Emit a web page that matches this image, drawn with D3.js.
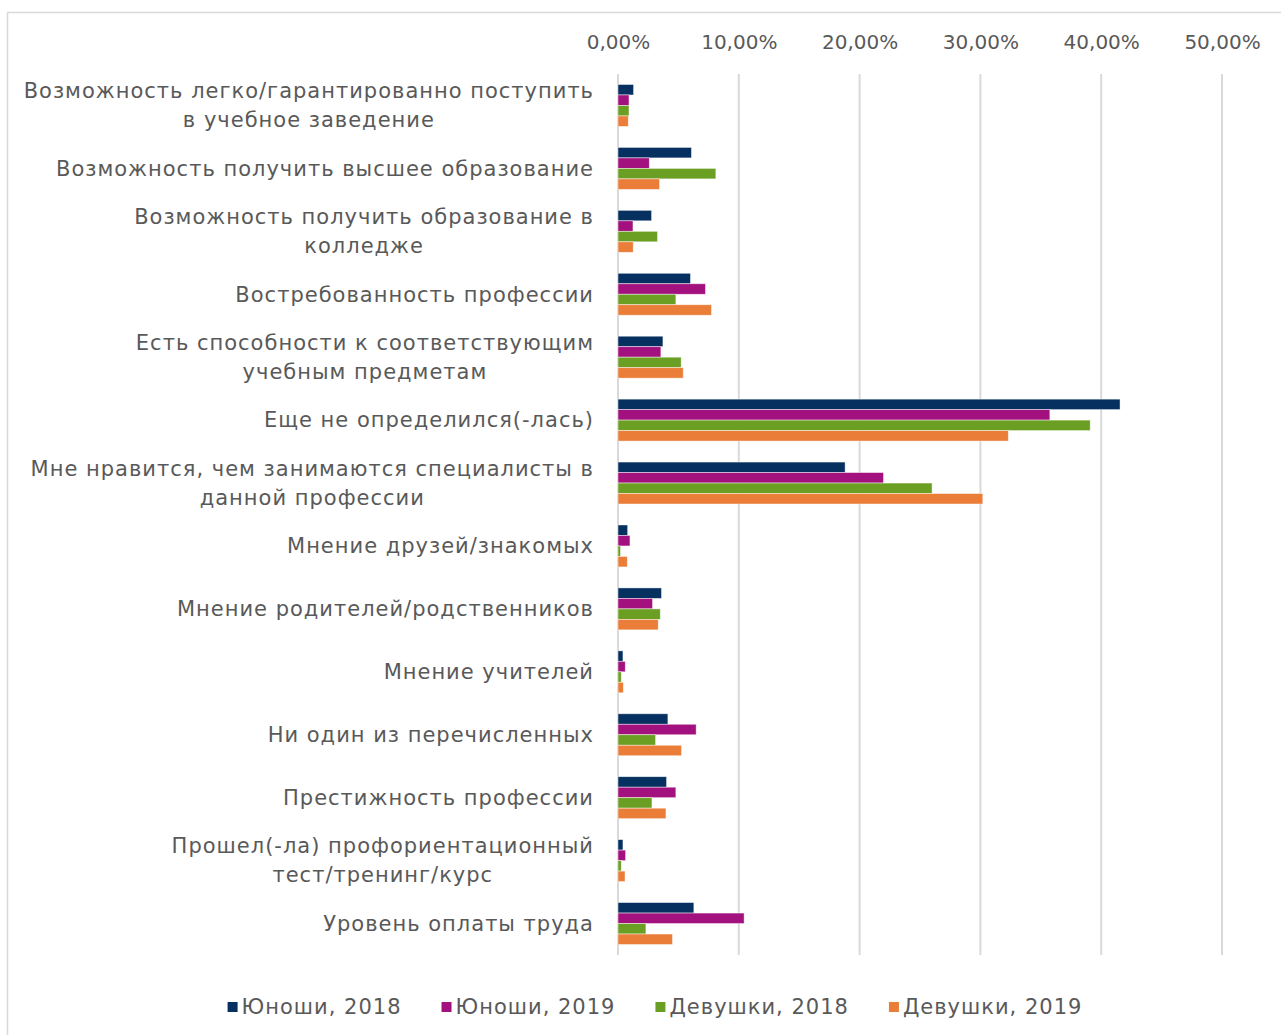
<!DOCTYPE html>
<html>
<head>
<meta charset="utf-8">
<script src="https://cdn.jsdelivr.net/npm/d3@7"></script>
<style>
  body { margin: 0; background: #fff; }
  text { font-family: "DejaVu Sans", sans-serif; fill: #595959; }
</style>
</head>
<body>
<div id="chart"></div>
<script>
const categories = [
  'Возможность легко/гарантированно поступить\nв учебное заведение',
  'Возможность получить высшее образование',
  'Возможность получить образование в\nколледже',
  'Востребованность профессии',
  'Есть способности к соответствующим\nучебным предметам',
  'Еще не определился(-лась)',
  'Мне нравится, чем занимаются специалисты в\nданной профессии',
  'Мнение друзей/знакомых',
  'Мнение родителей/родственников',
  'Мнение учителей',
  'Ни один из перечисленных',
  'Престижность профессии',
  'Прошел(-ла) профориентационный\nтест/тренинг/курс',
  'Уровень оплаты труда'
];
const seriesNames = ['Юноши, 2018', 'Юноши, 2019', 'Девушки, 2018', 'Девушки, 2019'];
const colors = ['#06305f', '#a3117f', '#6b9f23', '#ea7e39'];

// values in %
const boys2018  = [1.29, 6.08, 2.78, 6.00, 3.72, 41.56, 18.80, 0.80, 3.60, 0.41, 4.13, 4.02, 0.41, 6.28];
const boys2019  = [0.91, 2.59, 1.24, 7.24, 3.55, 35.75, 21.98, 0.99, 2.86, 0.60, 6.47, 4.79, 0.63, 10.44];
const girls2018 = [0.91, 8.10, 3.27, 4.79, 5.23, 39.09, 26.00, 0.21, 3.50, 0.27, 3.11, 2.81, 0.27, 2.31];
const girls2019 = [0.85, 3.44, 1.26, 7.74, 5.40, 32.31, 30.20, 0.77, 3.33, 0.44, 5.26, 3.97, 0.58, 4.51];
const xTicks = [0, 10, 20, 30, 40, 50];

const series = [boys2018, boys2019, girls2018, girls2019];

const width = 1281, height = 1035;
const plot = {left: 618, right: 1222, top: 74, bottom: 955};
const labelRight = 594;

const svg = d3.select('#chart')
  .append('svg')
    .attr('width', width)
    .attr('height', height);

svg.append('rect')
  .attr('width', width).attr('height', height).attr('fill', '#fff');

// chart frame
svg.append('rect')
  .attr('x', 7.5).attr('y', 12.5)
  .attr('width', 1290).attr('height', 1040)
  .attr('fill', 'none')
  .attr('stroke', '#d9d9d9')
  .attr('stroke-width', 1.5);

const x = d3.scaleLinear()
  .domain([0, 50])
  .range([plot.left, plot.right]);

const y = d3.scaleBand()
  .domain(categories)
  .range([plot.top, plot.bottom])
  .paddingInner(1 / 3)
  .paddingOuter(1 / 6);

const ySub = d3.scaleBand()
  .domain(d3.range(series.length))
  .range([0, y.bandwidth()]);

// gridlines
svg.append('g')
    .attr('class', 'grid')
  .selectAll('line')
  .data(xTicks)
  .join('line')
    .attr('x1', d => x(d)).attr('x2', d => x(d))
    .attr('y1', plot.top).attr('y2', plot.bottom)
    .attr('stroke', '#d9d9d9')
    .attr('stroke-width', 2);

// top axis labels
const fmt = d => d3.format('.2f')(d).replace('.', ',') + '%';
const xAxis = svg.append('g')
    .attr('transform', `translate(0, ${plot.top - 22})`)
  .call(d3.axisTop(x).tickValues(xTicks).tickFormat(fmt).tickSize(0));
xAxis.select('.domain').remove();
xAxis.selectAll('text')
  .attr('dy', 0)
  .style('font-size', '20px');

// bars
const bars = svg.append('g').attr('class', 'bars');
series.forEach((values, si) => {
  bars.selectAll(`.bar-${si}`)
    .data(values)
    .join('rect')
      .attr('class', `bar-${si}`)
      .attr('x', x(0))
      .attr('y', (d, i) => y(categories[i]) + ySub(si))
      .attr('width', d => x(d) - x(0))
      .attr('height', ySub.bandwidth())
      .attr('fill', colors[si])
      .attr('stroke', 'rgba(255,255,255,0.6)')
      .attr('stroke-width', 0.75);
});

// category labels (wrapped lines centred on each other, block right-aligned)
const lineH = 29;
svg.append('g')
    .attr('class', 'cat-labels')
  .selectAll('text')
  .data(categories)
  .join('text')
    .attr('text-anchor', 'middle')
    .style('font-size', '21px')
    .style('letter-spacing', '1px')
    .each(function(d) {
      const lines = d.split('\n');
      const cy = y(d) + y.bandwidth() / 2;
      const t = d3.select(this);
      const spans = lines.map((ln, k) => t.append('tspan')
        .attr('y', cy + (k - (lines.length - 1) / 2) * lineH)
        .attr('dy', '0.35em')
        .text(ln));
      const maxW = d3.max(spans, s => s.node().getComputedTextLength());
      spans.forEach(s => s.attr('x', labelRight - maxW / 2));
    });

// legend
const legend = svg.append('g').attr('class', 'legend');
const items = legend.selectAll('g')
  .data(seriesNames)
  .join('g');
items.append('rect')
  .attr('width', 10).attr('height', 10)
  .attr('y', -5)
  .attr('fill', (d, i) => colors[i]);
items.append('text')
  .attr('x', 14)
  .attr('dy', '0.35em')
  .style('font-size', '21px')
  .style('letter-spacing', '1px')
  .text(d => d);
let lx = 0;
items.each(function() {
  const w = this.getBBox().width;
  d3.select(this).attr('transform', `translate(${lx}, 0)`);
  lx += w + 40;
});
const legendW = lx - 40;
legend.attr('transform', `translate(${655 - legendW / 2}, 1007)`);
</script>
</body>
</html>
